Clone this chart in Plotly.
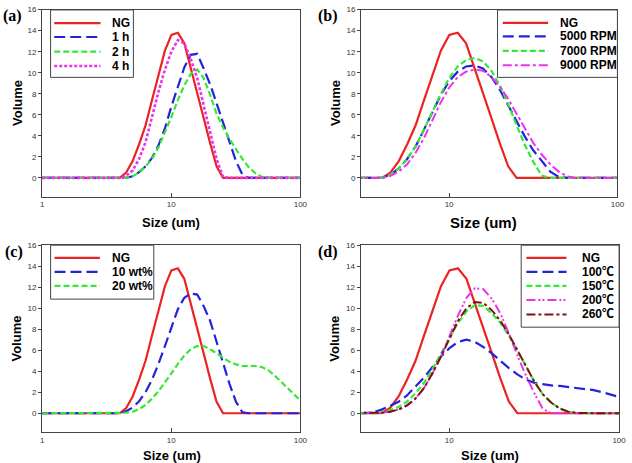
import plotly.graph_objects as go
import math

W, H = 632, 463

# Particle size bins (um)
SIZES = [1.002, 1.125, 1.262, 1.416, 1.589, 1.783, 2.000, 2.244, 2.518, 2.825,
         3.170, 3.557, 3.991, 4.477, 5.024, 5.637, 6.325, 7.096, 7.962, 8.934,
         10.024, 11.247, 12.619, 14.159, 15.887, 17.825, 20.000, 22.440, 25.179, 28.251,
         31.698, 35.566, 39.905, 44.774, 50.238, 56.368, 63.246, 70.963, 79.621, 89.337,
         100.237]

NG = [0, 0, 0, 0, 0, 0, 0, 0, 0, 0,
      0, 0, 0, 0.5, 1.6, 3.2, 5.0, 7.4, 9.8, 12.1,
      13.6, 13.8, 12.8, 10.5, 8.1, 5.7, 3.3, 1.1, 0, 0,
      0, 0, 0, 0, 0, 0, 0, 0, 0, 0,
      0]

# (a) milling time
H1 = [0, 0, 0, 0, 0, 0, 0, 0, 0, 0,
      0, 0, 0, 0, 0.15, 0.55, 1.1, 1.9, 3.1, 4.7,
      6.8, 8.7, 10.5, 11.7, 11.8, 10.4, 8.9, 7.1, 5.3, 3.3,
      1.6, 0.3, 0, 0, 0, 0, 0, 0, 0, 0,
      0]
H2 = [0, 0, 0, 0, 0, 0, 0, 0, 0, 0,
      0, 0, 0, 0, 0.15, 0.5, 1.1, 1.8, 2.9, 4.3,
      5.8, 7.4, 8.8, 9.9, 10.3, 9.5, 7.9, 6.1, 4.8, 3.7,
      2.7, 1.8, 1.0, 0.45, 0.1, 0, 0, 0, 0, 0,
      0]
H4 = [0, 0, 0, 0, 0, 0, 0, 0, 0, 0,
      0, 0, 0, 0.2, 0.7, 1.8, 3.4, 5.8, 8.2, 10.3,
      12.0, 13.1, 12.8, 11.3, 9.5, 6.9, 4.2, 1.8, 0.1, 0,
      0, 0, 0, 0, 0, 0, 0, 0, 0, 0,
      0]

# (b) rotation speed
R5000 = [0, 0, 0, 0, 0, 0, 0, 0, 0, 0,
         0, 0, 0, 0.3, 0.9, 1.8, 3.0, 4.6, 6.3, 7.9,
         9.2, 10.1, 10.6, 10.7, 10.4, 9.6, 8.4, 6.9, 5.4, 3.9,
         2.6, 1.6, 0.6, 0.1, 0, 0, 0, 0, 0, 0,
         0]
R7000 = [0, 0, 0, 0, 0, 0, 0, 0, 0, 0,
         0, 0, 0, 0.3, 0.9, 1.8, 3.0, 4.6, 6.3, 8.0,
         9.5, 10.6, 11.2, 11.4, 11.1, 10.2, 8.8, 7.0, 5.0, 3.1,
         1.5, 0.2, 0, 0, 0, 0, 0, 0, 0, 0,
         0]
R9000 = [0, 0, 0, 0, 0, 0, 0, 0, 0, 0,
         0, 0, 0, 0.2, 0.6, 1.3, 2.4, 3.8, 5.5, 7.2,
         8.6, 9.6, 10.1, 10.3, 10.2, 9.6, 8.7, 7.5, 6.1, 4.7,
         3.3, 2.2, 1.3, 0.6, 0.15, 0, 0, 0, 0, 0,
         0]

# (c) content
W10 = [0, 0, 0, 0, 0, 0, 0, 0, 0, 0,
       0, 0, 0, 0.2, 0.55, 1.15, 2.0, 3.2, 4.7, 6.4,
       8.2, 9.9, 11.0, 11.4, 11.3, 10.2, 8.8, 6.8, 4.7, 2.8,
       1.1, 0.1, 0, 0, 0, 0, 0, 0, 0, 0,
       0]
W20 = [0, 0, 0, 0, 0, 0, 0, 0, 0, 0,
       0, 0, 0, 0.05, 0.15, 0.4, 0.8, 1.4, 2.1, 2.9,
       3.8, 4.7, 5.5, 6.1, 6.4, 6.4, 6.1, 5.7, 5.3, 4.9,
       4.65, 4.5, 4.5, 4.5, 4.4, 4.1, 3.6, 3.0, 2.4, 1.8,
       1.2]

# (d) temperature
T100 = [0, 0, 0, 0, 0, 0, 0, 0, 0, 0,
        0, 0.1, 0.35, 0.7, 1.1, 1.7, 2.5, 3.4, 4.4, 5.4,
        6.2, 6.8, 7.0, 6.8, 6.3, 5.7, 5.0, 4.3, 3.7, 3.2,
        2.9, 2.75, 2.65, 2.6, 2.5, 2.4, 2.3, 2.2, 2.0, 1.8,
        1.55]
T150 = [0, 0, 0, 0, 0, 0, 0, 0, 0, 0,
        0, 0, 0.1, 0.3, 0.6, 1.1, 1.9, 2.9, 4.2, 5.7,
        7.2, 8.6, 9.7, 10.3, 10.2, 9.5, 8.6, 7.4, 6.0, 4.5,
        3.0, 1.8, 1.0, 0.45, 0.15, 0.03, 0, 0, 0, 0,
        0]
T200 = [0, 0, 0, 0, 0, 0, 0, 0, 0, 0,
        0, 0, 0.05, 0.15, 0.35, 0.75, 1.4, 2.4, 3.8, 5.4,
        7.3, 9.3, 11.0, 11.9, 11.8, 10.9, 9.5, 7.6, 5.5, 3.6,
        1.9, 0.4, 0, 0, 0, 0, 0, 0, 0, 0,
        0]
T260 = [0, 0, 0, 0, 0, 0, 0, 0, 0, 0,
        0, 0, 0.05, 0.15, 0.35, 0.75, 1.4, 2.4, 3.8, 5.4,
        7.1, 8.8, 10.0, 10.6, 10.5, 9.8, 8.8, 7.5, 6.0, 4.5,
        3.0, 1.8, 1.0, 0.45, 0.15, 0.03, 0, 0, 0, 0,
        0]

Y_TICKS = [0, 2, 4, 6, 8, 10, 12, 14, 16]

RED, BLUE, GREEN, MAG, BROWN = '#ec2323', '#2323dc', '#35e835', '#ea33ea', '#7c1212'
STY = {
    'solid': dict(color=RED, dash='solid', width=2.2),
    'long': dict(color=BLUE, dash='11px,5px', width=2.2),
    'short': dict(color=GREEN, dash='6px,3px', width=2.2),
    'dot': dict(color=MAG, dash='3px,2px', width=2.6),
    'mdd': dict(color=MAG, dash='9px,3px,3px,3px', width=2.0),
    'mddd': dict(color=MAG, dash='9px,3px,2px,2px,2px,3px', width=2.0),
    'bdd': dict(color=BROWN, dash='9px,3px,3px,3px', width=2.0),
}

panels = [
    dict(label='(a)', lab_xy=(11, 12), xr=[0, 2], xt=[1, 10, 100],
         px=(40.7, 302.7), py=(5.7, 194.3),
         series=[('NG', NG, 'solid'), ('1 h', H1, 'long'), ('2 h', H2, 'short'), ('4 h', H4, 'dot')],
         box=(49.3, 6, 133.3, 74), samp=(53, 100), tx=110, rows=[19.3, 33.3, 48.0, 62.5],
         vol=(15, 100), size=(171.7, 220, 13)),
    dict(label='(b)', lab_xy=(331, 12), xr=[math.log10(3), 2], xt=[10, 100],
         px=(364.3, 624.3), py=(5.7, 194.3),
         series=[('NG', NG, 'solid'), ('5000 RPM', R5000, 'long'), ('7000 RPM', R7000, 'short'),
                 ('9000 RPM', R9000, 'mdd')],
         box=(502.7, 6, 624.3, 74), samp=(508, 554), tx=564.3, rows=[19, 32.7, 47.3, 61.7],
         vol=(337.7, 100), size=(488, 220, 15)),
    dict(label='(c)', lab_xy=(12, 250), xr=[0, 2], xt=[1, 10, 100],
         px=(40.7, 302.7), py=(243.3, 431.7),
         series=[('NG', NG, 'solid'), ('10 wt%', W10, 'long'), ('20 wt%', W20, 'short')],
         box=(49.3, 243.3, 154, 297.7), samp=(53.3, 99.3), tx=110, rows=[256, 270.3, 284.3],
         vol=(15, 337.7), size=(172.2, 455, 13)),
    dict(label='(d)', lab_xy=(331, 250), xr=[math.log10(3), 2], xt=[10, 100],
         px=(363.7, 626), py=(243.3, 431.7),
         series=[('NG', NG, 'solid'), ('100℃', T100, 'long'), ('150℃', T150, 'short'),
                 ('200℃', T200, 'mddd'), ('260℃', T260, 'bdd')],
         box=(526.7, 243.3, 626, 326), samp=(532, 572.7), tx=586.7,
         rows=[256, 270.3, 284.3, 298.7, 313.2],
         vol=(337.7, 337.7), size=(495, 455, 13)),
]


def fx(x):
    return x / W


def fy(y):
    return 1 - y / H


FONT = 'Liberation Sans, Arial, Noto Sans CJK SC, sans-serif'
AX = '#444444'
fig = go.Figure()
shapes, annots = [], []
layout = dict(width=W, height=H, margin=dict(l=0, r=0, t=0, b=0),
              paper_bgcolor='white', plot_bgcolor='white', showlegend=False)

for i, p in enumerate(panels):
    n = '' if i == 0 else str(i + 1)
    for name, vals, st in p['series']:
        s = STY[st]
        fig.add_trace(go.Scatter(x=SIZES, y=vals, mode='lines', name=name,
                                 xaxis='x' + n, yaxis='y' + n, hoverinfo='skip',
                                 line=dict(color=s['color'], dash=s['dash'], width=s['width'])))
    layout['xaxis' + n] = dict(type='log', range=p['xr'], domain=[fx(p['px'][0]), fx(p['px'][1])],
                               anchor='y' + n, tickvals=p['xt'], ticktext=[str(v) for v in p['xt']],
                               ticks='inside', ticklen=4, tickcolor=AX, showline=True, linecolor=AX,
                               linewidth=1, mirror=True, showgrid=False, zeroline=False,
                               tickfont=dict(size=8, color='#333', family=FONT))
    layout['yaxis' + n] = dict(range=[-1.78, 16], domain=[fy(p['py'][1]), fy(p['py'][0])],
                               anchor='x' + n, tickvals=Y_TICKS, ticks='outside', ticklen=3,
                               tickcolor=AX, showline=True, linecolor=AX, linewidth=1, mirror=True,
                               showgrid=False, zeroline=False,
                               tickfont=dict(size=8, color='#333', family=FONT))
    # panel label
    annots.append(dict(text=p['label'], x=fx(p['lab_xy'][0]), y=fy(p['lab_xy'][1]), xref='paper',
                       yref='paper', xanchor='center', yanchor='middle', showarrow=False,
                       font=dict(family='Liberation Serif, Times New Roman, serif', size=16,
                                 color='black', weight='bold')))
    # axis titles
    annots.append(dict(text='Volume', x=fx(p['vol'][0]), y=fy(p['vol'][1]), xref='paper', yref='paper',
                       xanchor='center', yanchor='middle', textangle=-90, showarrow=False,
                       font=dict(family=FONT, size=13, color='black', weight='bold')))
    annots.append(dict(text='Size (um)', x=fx(p['size'][0]), y=fy(p['size'][1]), xref='paper',
                       yref='paper', xanchor='center', yanchor='middle', showarrow=False,
                       font=dict(family=FONT, size=p['size'][2], color='black', weight='bold')))
    # legend box
    b = p['box']
    shapes.append(dict(type='rect', xref='paper', yref='paper', x0=fx(b[0]), x1=fx(b[2]),
                       y0=fy(b[3]), y1=fy(b[1]), line=dict(color=AX, width=1), fillcolor='white',
                       layer='above'))
    for (name, vals, st), ry in zip(p['series'], p['rows']):
        s = STY[st]
        shapes.append(dict(type='line', xref='paper', yref='paper', x0=fx(p['samp'][0]),
                           x1=fx(p['samp'][1]), y0=fy(ry), y1=fy(ry), layer='above',
                           line=dict(color=s['color'], dash=s['dash'], width=s['width'])))
        annots.append(dict(text=name, x=fx(p['tx']), y=fy(ry), xref='paper', yref='paper',
                           xanchor='left', yanchor='middle', showarrow=False,
                           font=dict(family=FONT, size=12, color='black', weight='bold')))

layout['shapes'] = shapes
layout['annotations'] = annots
fig.update_layout(**layout)
fig.write_html('out.html')
